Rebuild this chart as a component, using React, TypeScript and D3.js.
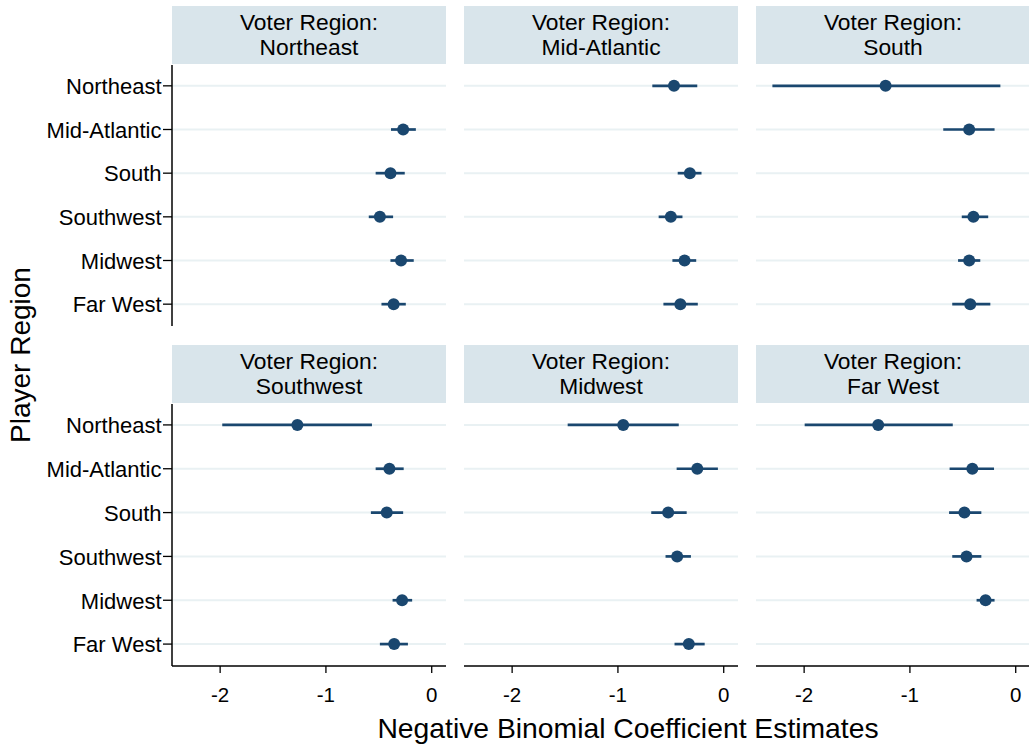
import React from "react";
import * as d3 from "d3";

const playerRegions = ["Northeast", "Mid-Atlantic", "South", "Southwest", "Midwest", "Far West"];
const voterRegions = ["Northeast", "Mid-Atlantic", "South", "Southwest", "Midwest", "Far West"];
const xTicks = [-2, -1, 0];

const coefNortheast = [null, -0.27, -0.39, -0.49, -0.29, -0.36];
const lowNortheast = [null, -0.385, -0.53, -0.595, -0.39, -0.475];
const highNortheast = [null, -0.15, -0.255, -0.365, -0.17, -0.245];

const coefMidAtlantic = [-0.47, null, -0.32, -0.5, -0.37, -0.41];
const lowMidAtlantic = [-0.675, null, -0.435, -0.615, -0.485, -0.57];
const highMidAtlantic = [-0.25, null, -0.21, -0.39, -0.26, -0.245];

const coefSouth = [-1.23, -0.44, null, -0.4, -0.44, -0.43];
const lowSouth = [-2.3, -0.685, null, -0.51, -0.545, -0.6];
const highSouth = [-0.145, -0.2, null, -0.26, -0.335, -0.24];

const coefSouthwest = [-1.27, -0.4, -0.425, null, -0.28, -0.355];
const lowSouthwest = [-1.98, -0.53, -0.575, null, -0.37, -0.49];
const highSouthwest = [-0.565, -0.265, -0.27, null, -0.185, -0.225];

const coefMidwest = [-0.95, -0.25, -0.525, -0.44, null, -0.33];
const lowMidwest = [-1.475, -0.445, -0.685, -0.55, null, -0.465];
const highMidwest = [-0.425, -0.055, -0.35, -0.31, null, -0.18];

const coefFarWest = [-1.3, -0.41, -0.485, -0.465, -0.285, null];
const lowFarWest = [-1.995, -0.625, -0.63, -0.6, -0.37, null];
const highFarWest = [-0.595, -0.205, -0.325, -0.325, -0.2, null];

const panels = [
  { coef: coefNortheast, low: lowNortheast, high: highNortheast },
  { coef: coefMidAtlantic, low: lowMidAtlantic, high: highMidAtlantic },
  { coef: coefSouth, low: lowSouth, high: highSouth },
  { coef: coefSouthwest, low: lowSouthwest, high: highSouthwest },
  { coef: coefMidwest, low: lowMidwest, high: highMidwest },
  { coef: coefFarWest, low: lowFarWest, high: highFarWest },
];

const W = 1029;
const H = 748;
const FONT = "'Liberation Sans', Arial, Helvetica, sans-serif";
const NAVY = "#1a476f";
const HEADER = "#d9e5eb";
const GRID = "#e9f1f3";

const panelLeft = [172, 464, 756];
const panelW = 274;
const rows = [
  { headerTop: 6, plotTop: 64, plotBottom: 326 },
  { headerTop: 345, plotTop: 403, plotBottom: 666 },
];

const x = d3.scaleLinear().domain([-2.455, 0.135]).range([0, panelW]);

export default function App() {
  return (
    <div style={{ position: "absolute", left: 0, top: 0 }}>
      <svg width={W} height={H} style={{ display: "block", background: "#fff", fontFamily: FONT }}>
        {voterRegions.map((vr, i) => {
          const r = Math.floor(i / 3);
          const c = i % 3;
          const left = panelLeft[c];
          const row = rows[r];
          const y = d3
            .scalePoint<string>()
            .domain(playerRegions)
            .range([row.plotTop, row.plotBottom])
            .padding(0.5);
          const p = panels[i];
          return (
            <g key={vr} transform={`translate(${left},0)`}>
              <rect x={0} y={row.headerTop} width={panelW} height={row.plotTop - row.headerTop} fill={HEADER} />
              <text x={panelW / 2} y={row.headerTop + 23.8} textAnchor="middle" fontSize={22.8} fill="#000">
                Voter Region:
              </text>
              <text x={panelW / 2} y={row.headerTop + 49.3} textAnchor="middle" fontSize={22.8} fill="#000">
                {vr}
              </text>
              {playerRegions.map((pr) => (
                <line key={pr} x1={0} x2={panelW} y1={y(pr)} y2={y(pr)} stroke={GRID} strokeWidth={2} />
              ))}
              {c === 0 && (
                <g>
                  <line x1={0} x2={0} y1={row.plotTop + 1} y2={row.plotBottom} stroke="#000" strokeWidth={1.5} />
                  {playerRegions.map((pr) => (
                    <g key={pr}>
                      <line x1={-9} x2={0} y1={y(pr)} y2={y(pr)} stroke="#000" strokeWidth={1.3} />
                      <text x={-10.5} y={(y(pr) as number) + 8.3} textAnchor="end" fontSize={22} fill="#000">
                        {pr}
                      </text>
                    </g>
                  ))}
                </g>
              )}
              {r === 1 && (
                <g>
                  <line x1={0} x2={panelW} y1={row.plotBottom} y2={row.plotBottom} stroke="#000" strokeWidth={1.5} />
                  {xTicks.map((t) => (
                    <g key={t}>
                      <line x1={x(t)} x2={x(t)} y1={row.plotBottom} y2={row.plotBottom + 7} stroke="#000" strokeWidth={1.3} />
                      <text x={x(t)} y={row.plotBottom + 36} textAnchor="middle" fontSize={20.5} fill="#000">
                        {t}
                      </text>
                    </g>
                  ))}
                </g>
              )}
              {playerRegions.map((pr, j) => {
                const v = p.coef[j];
                if (v === null) return null;
                const yy = y(pr) as number;
                return (
                  <g key={pr}>
                    <line x1={x(p.low[j] as number)} x2={x(p.high[j] as number)} y1={yy} y2={yy} stroke={NAVY} strokeWidth={2.7} />
                    <circle cx={x(v)} cy={yy} r={6} fill={NAVY} />
                  </g>
                );
              })}
            </g>
          );
        })}
        <text x={628} y={738} textAnchor="middle" fontSize={28.3} fill="#000">
          Negative Binomial Coefficient Estimates
        </text>
        <text transform="translate(30,355) rotate(-90)" textAnchor="middle" fontSize={28} fill="#000">
          Player Region
        </text>
      </svg>
    </div>
  );
}
